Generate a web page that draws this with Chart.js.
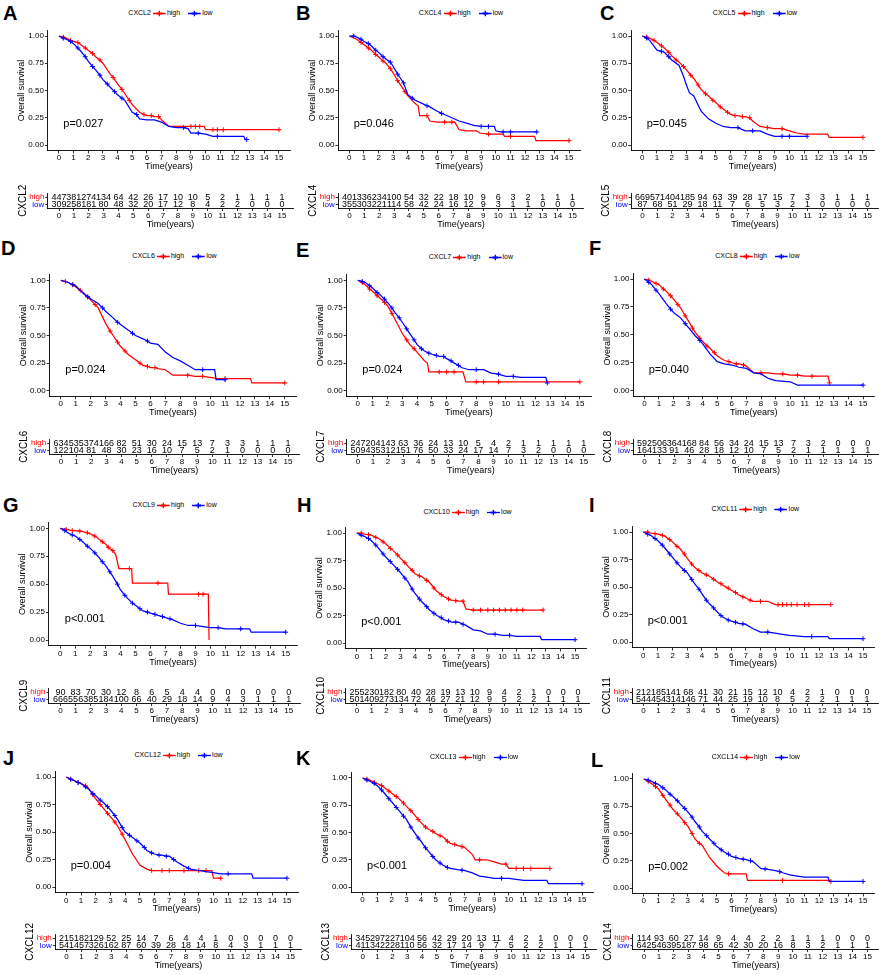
<!DOCTYPE html>
<html><head><meta charset="utf-8">
<script src="https://cdn.jsdelivr.net/npm/chart.js@4.4.1/dist/chart.umd.min.js"></script>
<style>
html,body{margin:0;padding:0;background:#fff;width:879px;height:975px;overflow:hidden;position:relative;font-family:"Liberation Sans",Arial,sans-serif;}
canvas{position:absolute;}
.letter{position:absolute;font-weight:bold;font-size:20px;line-height:20px;color:#000;}
.lg{position:absolute;display:flex;align-items:center;font-size:7px;line-height:8px;white-space:nowrap;transform:translate(-50%,-50%);color:#000;}
.lg svg{display:block;}
</style></head><body>
<script>
// ---------------- DATA ----------------
const years = [0,1,2,3,4,5,6,7,8,9,10,11,12,13,14,15];
const survTicks = [0,0.25,0.5,0.75,1];
const letters = ['A','B','C','D','E','F','G','H','I','J','K','L'];
const genes = ['CXCL2','CXCL4','CXCL5','CXCL6','CXCL7','CXCL8','CXCL9','CXCL10','CXCL11','CXCL12','CXCL13','CXCL14'];
const pvals = ['p=0.027','p=0.046','p=0.045','p=0.024','p=0.024','p=0.040','p<0.001','p<0.001','p<0.001','p=0.004','p<0.001','p=0.002'];
const strata = ['high','low'];

// survival curves: [time, survival] ; third element 1 = censored mark
const cxcl2High = [[0,1],[0.3,0.99,1],[0.5,0.98],[0.8,0.96,1],[1,0.95],[1.3,0.94,1],[1.5,0.92],[1.8,0.89,1],[2,0.87],[2.3,0.84,1],[2.5,0.81],[2.8,0.78,1],[3,0.75],[3.5,0.65],[3.7,0.62,1],[4,0.56],[4.3,0.51,1],[4.5,0.47],[4.8,0.41,1],[5,0.37],[5.5,0.30],[5.8,0.28,1],[6,0.27],[6.3,0.27,1],[6.5,0.26],[6.8,0.26,1],[7,0.23],[7.5,0.17],[8,0.17],[9,0.17,1],[9.3,0.17,1],[9.6,0.17,1],[9.9,0.17],[10,0.14],[10.5,0.14,1],[10.8,0.14,1],[11.2,0.14,1],[15,0.14,1]];
const cxcl2Low = [[0,1],[0.3,0.98,1],[0.5,0.97],[0.8,0.95,1],[1,0.93],[1.3,0.89,1],[1.5,0.86],[1.8,0.81,1],[2,0.77],[2.3,0.72,1],[2.5,0.69],[2.8,0.64,1],[3,0.60],[3.3,0.56,1],[3.5,0.53],[3.8,0.49,1],[4,0.46],[4.3,0.43,1],[4.5,0.41],[5,0.30],[5.3,0.28,1],[5.5,0.24],[6,0.23],[6.5,0.23],[7,0.21],[7.5,0.17],[8,0.16],[8.5,0.16,1],[8.8,0.15],[9,0.11],[9.5,0.11,1],[10,0.10],[10.5,0.08],[10.8,0.08,1],[12.6,0.08],[12.7,0.05],[12.8,0.05,1]];
const cxcl4High = [[0,1],[0.5,0.97],[0.8,0.94,1],[1,0.92],[1.3,0.89,1],[1.5,0.87],[1.8,0.83,1],[2,0.81],[2.3,0.77,1],[2.5,0.75],[2.8,0.70,1],[3,0.66],[3.3,0.59,1],[3.5,0.55],[3.8,0.49,1],[4,0.45],[4.5,0.38],[4.7,0.36],[4.8,0.27],[5.3,0.27,1],[5.5,0.22],[6,0.21],[6.5,0.21,1],[7,0.21,1],[7.2,0.21],[7.5,0.14],[8,0.13],[8.7,0.13],[8.9,0.11],[9.5,0.10,1],[10,0.10],[10.5,0.10],[10.6,0.08],[11,0.08,1],[12.65,0.08],[12.75,0.04],[15,0.04,1]];
const cxcl4Low = [[0,1],[0.3,1,1],[0.5,0.99],[0.8,0.97,1],[1,0.95],[1.3,0.93,1],[1.5,0.91],[1.8,0.87,1],[2,0.85],[2.3,0.81,1],[2.5,0.79],[2.8,0.76,1],[3,0.72],[3.3,0.65,1],[3.5,0.61],[3.7,0.57,1],[4,0.46],[4.3,0.43,1],[4.5,0.41],[5,0.38],[5.3,0.36,1],[5.5,0.35],[6,0.31],[6.3,0.29,1],[6.5,0.28],[7,0.25],[7.5,0.22],[8,0.20],[8.5,0.18],[9,0.17,1],[9.5,0.17,1],[9.9,0.17],[10,0.13],[10.3,0.12],[10.5,0.12,1],[11,0.12,1],[12.8,0.12,1]];
const cxcl5High = [[0,1],[0.3,0.99,1],[0.5,0.98],[0.8,0.96,1],[1,0.94],[1.3,0.91,1],[1.5,0.89],[1.8,0.85,1],[2,0.82],[2.3,0.78,1],[2.5,0.76],[2.8,0.72,1],[3,0.69],[3.3,0.64,1],[3.5,0.61],[3.8,0.55,1],[4,0.51],[4.3,0.47,1],[4.5,0.45],[4.8,0.41,1],[5,0.39],[5.3,0.35,1],[5.5,0.33],[5.8,0.30,1],[6,0.28],[6.3,0.27,1],[6.5,0.27],[6.8,0.26,1],[7,0.26],[7.3,0.25,1],[7.5,0.22],[8,0.17],[8.5,0.16,1],[9,0.15],[9.5,0.15,1],[10,0.13],[10.5,0.11],[11,0.10],[12.6,0.10],[12.7,0.07],[15,0.07,1]];
const cxcl5Low = [[0,1],[0.3,0.98,1],[0.5,0.96],[1,0.87],[1.3,0.86,1],[1.5,0.85],[1.8,0.81,1],[2,0.78],[2.5,0.73],[2.8,0.63],[3,0.55],[3.2,0.48],[3.5,0.45],[4,0.31],[4.5,0.24],[5,0.20],[5.5,0.17],[6,0.16],[6.5,0.16,1],[7,0.13],[7.5,0.13,1],[8,0.13],[8.5,0.10],[9,0.08],[9.5,0.08,1],[10,0.08,1],[11.2,0.08,1]];
const cxcl6High = [[0,1],[0.3,0.99,1],[0.5,0.98],[0.8,0.96,1],[1,0.94],[1.3,0.91,1],[1.5,0.89],[1.8,0.85,1],[2,0.82],[2.3,0.78,1],[2.5,0.75],[3,0.61],[3.3,0.54,1],[3.5,0.50],[3.8,0.44,1],[4,0.40],[4.3,0.36,1],[4.5,0.33],[5,0.28],[5.3,0.25,1],[5.5,0.23],[5.8,0.22,1],[6,0.21],[6.3,0.21,1],[6.5,0.20],[7,0.19],[7.5,0.14],[8,0.14],[8.5,0.14,1],[9,0.13],[9.5,0.13,1],[10,0.12],[10.5,0.11],[11,0.11,1],[12.7,0.11],[12.8,0.07],[15,0.07,1]];
const cxcl6Low = [[0,1],[0.5,0.98],[0.8,0.96,1],[1,0.95],[1.5,0.88],[1.8,0.85,1],[2,0.83],[2.5,0.79],[2.8,0.75,1],[3,0.72],[3.5,0.66],[3.8,0.62,1],[4,0.60],[4.5,0.55],[4.8,0.52,1],[5,0.50],[5.5,0.47],[5.8,0.45,1],[6,0.43],[6.5,0.42],[7,0.35],[7.5,0.30],[8,0.27],[8.5,0.23],[9,0.19],[9.5,0.19,1],[10.3,0.19],[10.4,0.10],[11,0.10,1]];
const cxcl7High = [[0,1],[0.3,0.98,1],[0.5,0.96],[0.8,0.92,1],[1,0.90],[1.3,0.86,1],[1.5,0.84],[1.8,0.80,1],[2,0.77],[2.3,0.70,1],[2.5,0.65],[3,0.52],[3.3,0.46,1],[3.5,0.42],[3.8,0.38,1],[4,0.35],[4.5,0.27],[4.7,0.25],[4.8,0.17],[5.5,0.17,1],[6,0.17,1],[6.5,0.17,1],[7.1,0.17],[7.3,0.08],[8,0.08,1],[8.5,0.08,1],[9.5,0.08,1],[15,0.08,1]];
const cxcl7Low = [[0,1],[0.3,0.99,1],[0.5,0.98],[0.8,0.95,1],[1,0.93],[1.3,0.89,1],[1.5,0.87],[1.8,0.83,1],[2,0.80],[2.3,0.75,1],[2.5,0.71],[2.8,0.66,1],[3,0.62],[3.3,0.56,1],[3.5,0.52],[3.8,0.46,1],[4,0.42],[4.3,0.38,1],[4.5,0.36],[4.8,0.34,1],[5,0.33],[5.3,0.32,1],[5.5,0.31],[5.8,0.31,1],[6,0.29],[6.3,0.27,1],[6.5,0.25],[6.8,0.23,1],[7,0.21],[7.5,0.19],[8,0.19,1],[8.5,0.19],[9,0.16],[9.5,0.15,1],[10,0.13],[10.5,0.13,1],[11,0.12],[12.7,0.12],[12.8,0.07,1]];
const cxcl8High = [[0,1],[0.3,0.99,1],[0.5,0.98],[0.8,0.96,1],[1,0.95],[1.3,0.91,1],[1.5,0.89],[1.8,0.85,1],[2,0.82],[2.3,0.77,1],[2.5,0.74],[2.8,0.67,1],[3,0.63],[3.3,0.56,1],[3.5,0.52],[3.8,0.47,1],[4,0.44],[4.3,0.40,1],[4.5,0.38],[4.8,0.34,1],[5,0.31],[5.5,0.27],[5.8,0.26,1],[6,0.25],[6.3,0.24,1],[6.5,0.24],[6.8,0.23,1],[7,0.22],[7.5,0.16],[8,0.16,1],[8.5,0.16],[9,0.15],[9.5,0.15,1],[10,0.14],[10.5,0.14,1],[11,0.13],[11.5,0.13,1],[12.6,0.13],[12.7,0.07,1]];
const cxcl8Low = [[0,1],[0.3,0.97,1],[0.5,0.95],[0.8,0.90,1],[1,0.87],[1.5,0.78],[1.8,0.73,1],[2,0.70],[2.5,0.65],[2.8,0.60,1],[3,0.57],[3.5,0.49],[3.8,0.45,1],[4,0.42],[4.5,0.33],[5,0.26],[5.5,0.24],[6,0.23],[6.5,0.21],[7,0.20],[7.5,0.16],[8,0.15],[8.5,0.11],[9,0.09],[10,0.08],[10.5,0.05],[15,0.05,1]];
const cxcl9High = [[0,1],[0.4,0.99,1],[0.8,0.98,1],[1,0.98],[1.3,0.975,1],[1.5,0.97],[1.8,0.96,1],[2,0.95],[2.3,0.93,1],[2.5,0.91],[2.8,0.88,1],[3,0.86],[3.2,0.83,1],[3.3,0.82],[3.5,0.80,1],[3.7,0.76],[3.9,0.64],[4.6,0.64,1],[4.75,0.64],[4.8,0.51],[6.5,0.51,1],[7.15,0.51],[7.2,0.41],[9.2,0.41,1],[9.5,0.41,1],[9.85,0.41],[9.9,0]];
const cxcl9Low = [[0,1],[0.3,0.98,1],[0.5,0.96],[0.8,0.94,1],[1,0.93],[1.3,0.90,1],[1.5,0.88],[1.8,0.84,1],[2,0.82],[2.3,0.78,1],[2.5,0.75],[2.8,0.70,1],[3,0.67],[3.3,0.61,1],[3.5,0.57],[3.8,0.50,1],[4,0.45],[4.3,0.40,1],[4.5,0.37],[4.8,0.33,1],[5,0.31],[5.3,0.28,1],[5.5,0.26],[5.8,0.25,1],[6,0.24],[6.3,0.23,1],[6.5,0.22],[6.8,0.21,1],[7,0.20],[7.3,0.19,1],[7.5,0.18],[8,0.15],[8.5,0.13],[9,0.13,1],[9.5,0.12],[10,0.11],[10.5,0.11,1],[11,0.10],[12,0.10,1],[12.6,0.10],[12.7,0.07],[15,0.07,1]];
const cxcl10High = [[0,1],[0.3,1,1],[0.5,0.99],[0.8,0.985,1],[1,0.98],[1.3,0.96,1],[1.5,0.95],[1.8,0.92,1],[2,0.90],[2.3,0.86,1],[2.5,0.84],[2.8,0.80,1],[3,0.77],[3.3,0.73,1],[3.5,0.70],[3.8,0.66,1],[4,0.63],[4.3,0.61,1],[4.5,0.60],[4.8,0.57,1],[5,0.55],[5.3,0.50,1],[5.5,0.47],[5.8,0.44,1],[6,0.42],[6.3,0.40,1],[6.5,0.39],[6.8,0.385,1],[7,0.38],[7.3,0.38,1],[7.5,0.31],[8,0.30,1],[8.5,0.30,1],[9,0.30,1],[9.4,0.30,1],[9.8,0.30,1],[10.2,0.30,1],[10.6,0.30,1],[11,0.30,1],[11.4,0.30,1],[12.8,0.30,1]];
const cxcl10Low = [[0,1],[0.3,0.98,1],[0.5,0.97],[0.8,0.95,1],[1,0.93],[1.3,0.89,1],[1.5,0.86],[1.8,0.81,1],[2,0.78],[2.3,0.74,1],[2.5,0.71],[2.8,0.67,1],[3,0.64],[3.3,0.59,1],[3.5,0.56],[3.8,0.49,1],[4,0.45],[4.3,0.40,1],[4.5,0.37],[4.8,0.33,1],[5,0.30],[5.3,0.27,1],[5.5,0.25],[5.8,0.23,1],[6,0.21],[6.3,0.20,1],[6.5,0.19],[6.8,0.19,1],[7,0.19],[7.3,0.17,1],[7.5,0.16],[8,0.12],[8.5,0.11],[9,0.08],[9.5,0.08,1],[10,0.07],[10.5,0.07,1],[11,0.06],[12.6,0.06],[12.7,0.03],[15,0.03,1]];
const cxcl11High = [[0,1],[0.3,1,1],[0.5,0.99],[0.8,0.985,1],[1,0.98],[1.3,0.97,1],[1.5,0.96],[1.8,0.93,1],[2,0.91],[2.3,0.87,1],[2.5,0.85],[2.8,0.80,1],[3,0.76],[3.3,0.71,1],[3.5,0.68],[3.8,0.65,1],[4,0.63],[4.3,0.61,1],[4.5,0.60],[4.8,0.57,1],[5,0.55],[5.3,0.53,1],[5.5,0.51],[5.8,0.49,1],[6,0.47],[6.3,0.45,1],[6.5,0.43],[6.8,0.41,1],[7,0.40],[7.3,0.38,1],[7.5,0.37],[8,0.37,1],[8.5,0.37],[9,0.34],[9.2,0.34,1],[9.5,0.34,1],[9.8,0.34,1],[10.1,0.34,1],[10.5,0.34,1],[11,0.34,1],[11.3,0.34,1],[12.8,0.34,1]];
const cxcl11Low = [[0,1],[0.3,0.98,1],[0.5,0.97],[0.8,0.94,1],[1,0.92],[1.3,0.88,1],[1.5,0.85],[1.8,0.80,1],[2,0.77],[2.3,0.72,1],[2.5,0.69],[2.8,0.65,1],[3,0.63],[3.3,0.57,1],[3.5,0.53],[3.8,0.48,1],[4,0.44],[4.3,0.38,1],[4.5,0.35],[4.8,0.31,1],[5,0.28],[5.3,0.24,1],[5.5,0.22],[5.8,0.20,1],[6,0.19],[6.3,0.18,1],[6.5,0.17],[6.8,0.165,1],[7,0.16],[7.5,0.12],[8,0.09],[8.5,0.09,1],[9,0.08],[9.5,0.07],[10,0.06],[11,0.05],[11.5,0.05,1],[12.6,0.05],[12.7,0.03],[15,0.03,1]];
const cxcl12High = [[0,1],[0.3,0.98,1],[0.5,0.97],[0.8,0.95,1],[1,0.94],[1.3,0.92,1],[1.5,0.90],[1.8,0.84,1],[2,0.80],[2.3,0.75,1],[2.5,0.72],[2.8,0.67,1],[3,0.64],[3.3,0.59,1],[3.5,0.55],[3.8,0.48,1],[4,0.43],[4.5,0.30],[5,0.20],[5.5,0.16],[5.8,0.15,1],[6,0.15],[6.5,0.15,1],[7,0.15,1],[8,0.15,1],[9,0.15,1],[9.5,0.15,1],[9.9,0.15],[10,0.08],[10.5,0.08,1]];
const cxcl12Low = [[0,1],[0.3,0.98,1],[0.5,0.97],[0.8,0.95,1],[1,0.94],[1.3,0.91,1],[1.5,0.89],[1.8,0.85,1],[2,0.83],[2.3,0.79,1],[2.5,0.77],[2.8,0.73,1],[3,0.70],[3.3,0.65,1],[3.5,0.61],[3.8,0.54,1],[4,0.50],[4.3,0.47,1],[4.5,0.45],[4.8,0.42,1],[5,0.40],[5.3,0.36,1],[5.5,0.33],[5.8,0.31,1],[6,0.30],[6.3,0.29,1],[6.5,0.29],[6.8,0.28,1],[7,0.28],[7.3,0.25,1],[7.5,0.23],[8,0.19],[8.3,0.17,1],[8.5,0.16],[9,0.15],[9.5,0.14],[10,0.13],[10.5,0.12],[11,0.12,1],[12.6,0.12],[12.7,0.08],[15,0.08,1]];
const cxcl13High = [[0,1],[0.3,0.99,1],[0.5,0.98],[0.8,0.96,1],[1,0.95],[1.3,0.93,1],[1.5,0.91],[1.8,0.88,1],[2,0.86],[2.3,0.83,1],[2.5,0.81],[2.8,0.77,1],[3,0.74],[3.3,0.70,1],[3.5,0.67],[3.8,0.62,1],[4,0.59],[4.3,0.55,1],[4.5,0.53],[4.8,0.51,1],[5,0.49],[5.3,0.47,1],[5.5,0.46],[5.8,0.42,1],[6,0.40],[6.3,0.39,1],[6.5,0.38],[6.8,0.37,1],[7,0.36],[7.5,0.30],[7.7,0.25],[8,0.25,1],[8.5,0.25],[9,0.23],[9.5,0.21],[9.8,0.21,1],[10,0.17],[10.5,0.17,1],[11,0.17,1],[11.5,0.17,1],[12.8,0.17,1]];
const cxcl13Low = [[0,1],[0.3,0.98,1],[0.5,0.97],[0.8,0.95,1],[1,0.93],[1.3,0.89,1],[1.5,0.86],[1.8,0.81,1],[2,0.78],[2.3,0.73,1],[2.5,0.70],[2.8,0.65,1],[3,0.62],[3.3,0.55,1],[3.5,0.51],[3.8,0.45,1],[4,0.42],[4.3,0.36,1],[4.5,0.33],[4.8,0.28,1],[5,0.25],[5.3,0.22,1],[5.5,0.20],[5.8,0.18,1],[6,0.17],[6.5,0.16],[6.8,0.155,1],[7,0.15],[7.5,0.13],[8,0.10],[8.5,0.09],[9,0.08],[9.5,0.08,1],[10,0.08],[10.5,0.07],[11,0.06],[12.6,0.06],[12.7,0.03],[15,0.03,1]];
const cxcl14High = [[0,1],[0.3,0.98,1],[0.5,0.96],[0.8,0.93,1],[1,0.91],[1.3,0.85,1],[1.5,0.81],[1.8,0.76,1],[2,0.72],[2.3,0.68,1],[2.5,0.65],[2.8,0.60,1],[3,0.57],[3.3,0.50,1],[3.5,0.45],[3.8,0.41,1],[4,0.39],[4.5,0.28],[5,0.20],[5.5,0.14],[5.8,0.13,1],[6,0.13],[7,0.13],[7.1,0.07],[9.5,0.07,1],[12.7,0.07],[12.8,0.06,1]];
const cxcl14Low = [[0,1],[0.3,0.99,1],[0.5,0.98],[0.8,0.96,1],[1,0.95],[1.3,0.92,1],[1.5,0.90],[1.8,0.86,1],[2,0.84],[2.3,0.80,1],[2.5,0.77],[2.8,0.73,1],[3,0.70],[3.3,0.65,1],[3.5,0.61],[3.8,0.56,1],[4,0.52],[4.3,0.48,1],[4.5,0.45],[4.8,0.41,1],[5,0.38],[5.3,0.35,1],[5.5,0.33],[5.8,0.31,1],[6,0.29],[6.3,0.28,1],[6.5,0.27],[6.8,0.265,1],[7,0.26],[7.3,0.25,1],[7.5,0.24],[8,0.18],[8.3,0.175,1],[8.5,0.17],[9,0.16],[9.3,0.15,1],[9.5,0.14],[10,0.12],[10.5,0.11],[11,0.10],[12.6,0.10],[12.7,0.06],[15,0.06,1]];

// numbers at risk at years 0..15
const cxcl2RiskHigh = [447,381,274,134,64,42,26,17,10,10,5,2,1,1,1,1];
const cxcl2RiskLow  = [309,258,181,80,48,32,20,17,12,8,4,2,2,0,0,0];
const cxcl4RiskHigh = [401,336,234,100,54,32,22,18,10,9,6,3,2,1,1,1];
const cxcl4RiskLow  = [355,303,221,114,58,42,24,16,12,9,3,1,1,0,0,0];
const cxcl5RiskHigh = [669,571,404,185,94,63,39,28,17,15,7,3,3,1,1,1];
const cxcl5RiskLow  = [87,68,51,29,18,11,7,6,5,3,2,1,0,0,0,0];
const cxcl6RiskHigh = [634,535,374,166,82,51,30,24,15,13,7,3,3,1,1,1];
const cxcl6RiskLow  = [122,104,81,48,30,23,16,10,7,5,2,1,0,0,0,0];
const cxcl7RiskHigh = [247,204,143,63,36,24,13,10,5,4,2,1,1,1,1,1];
const cxcl7RiskLow  = [509,435,312,151,76,50,33,24,17,14,7,3,2,0,0,0];
const cxcl8RiskHigh = [592,506,364,168,84,56,34,24,15,13,7,3,2,0,0,0];
const cxcl8RiskLow  = [164,133,91,46,28,18,12,10,7,5,2,1,1,1,1,1];
const cxcl9RiskHigh = [90,83,70,30,12,8,6,5,4,4,0,0,0,0,0,0];
const cxcl9RiskLow  = [666,556,385,184,100,66,40,29,18,14,9,4,3,1,1,1];
const cxcl10RiskHigh = [255,230,182,80,40,28,19,13,10,9,4,2,1,0,0,0];
const cxcl10RiskLow  = [501,409,273,134,72,46,27,21,12,9,5,2,2,1,1,1];
const cxcl11RiskHigh = [212,185,141,68,41,30,21,15,12,10,4,2,1,0,0,0];
const cxcl11RiskLow  = [544,454,314,146,71,44,25,19,10,8,5,2,2,1,1,1];
const cxcl12RiskHigh = [215,182,129,52,25,14,7,6,4,4,1,0,0,0,0,0];
const cxcl12RiskLow  = [541,457,326,162,87,60,39,28,18,14,8,4,3,1,1,1];
const cxcl13RiskHigh = [345,297,227,104,56,42,29,20,13,11,4,2,1,0,0,0];
const cxcl13RiskLow  = [411,342,228,110,56,32,17,14,9,7,5,2,2,1,1,1];
const cxcl14RiskHigh = [114,93,60,27,14,9,4,4,2,2,1,1,1,0,0,0];
const cxcl14RiskLow  = [642,546,395,187,98,65,42,30,20,16,8,3,2,1,1,1];

const curvesHigh = [cxcl2High,cxcl4High,cxcl5High,cxcl6High,cxcl7High,cxcl8High,cxcl9High,cxcl10High,cxcl11High,cxcl12High,cxcl13High,cxcl14High];
const curvesLow  = [cxcl2Low,cxcl4Low,cxcl5Low,cxcl6Low,cxcl7Low,cxcl8Low,cxcl9Low,cxcl10Low,cxcl11Low,cxcl12Low,cxcl13Low,cxcl14Low];
const risksHigh = [cxcl2RiskHigh,cxcl4RiskHigh,cxcl5RiskHigh,cxcl6RiskHigh,cxcl7RiskHigh,cxcl8RiskHigh,cxcl9RiskHigh,cxcl10RiskHigh,cxcl11RiskHigh,cxcl12RiskHigh,cxcl13RiskHigh,cxcl14RiskHigh];
const risksLow  = [cxcl2RiskLow,cxcl4RiskLow,cxcl5RiskLow,cxcl6RiskLow,cxcl7RiskLow,cxcl8RiskLow,cxcl9RiskLow,cxcl10RiskLow,cxcl11RiskLow,cxcl12RiskLow,cxcl13RiskLow,cxcl14RiskLow];

// ---------------- LAYOUT (page pixels) ----------------
const panelGeo = [
  {x0:59,   x15:282,   y1:36,    y0:145,   legY:13,  lx:3,   ly:12.5, riskY:197},
  {x0:349.5,x15:572.5, y1:36,    y0:145,   legY:13,  lx:296, ly:12.5, riskY:197},
  {x0:642.5,x15:867.5, y1:36,    y0:145,   legY:13,  lx:600, ly:12.5, riskY:197},
  {x0:61,   x15:288,   y1:280.3, y0:390.7, legY:256, lx:1,   ly:248,  riskY:443},
  {x0:358,  x15:583.7, y1:280.3, y0:390.7, legY:257, lx:296, ly:250,  riskY:443},
  {x0:644.7,x15:870,   y1:279,   y0:390.7, legY:256, lx:589, ly:248,  riskY:443},
  {x0:60.4, x15:288.8, y1:528.3, y0:640,   legY:505, lx:3,   ly:505,  riskY:692},
  {x0:357,  x15:578,   y1:533,   y0:643,   legY:512, lx:297, ly:505,  riskY:692},
  {x0:643.5,x15:867,   y1:532,   y0:642,   legY:509, lx:589, ly:505,  riskY:692},
  {x0:66.5, x15:290.5, y1:777,   y0:887,   legY:755, lx:3,   ly:757.5,riskY:938},
  {x0:362.7,x15:585.4, y1:778,   y0:887,   legY:757, lx:296, ly:758,  riskY:938},
  {x0:644,  x15:867.5, y1:779,   y0:888,   legY:757, lx:591, ly:760,  riskY:938}
];
const pvalPos = [0.3, 0.19];
const RED = '#FF0000', BLUE = '#0000FF';
const FONT = '"Liberation Sans", Arial, sans-serif';
Chart.defaults.font.family = FONT;
Chart.defaults.color = '#000';

function addCanvas(left, top, w, h){
  const c = document.createElement('canvas');
  c.width = w; c.height = h;
  c.style.left = left+'px'; c.style.top = top+'px';
  c.style.width = w+'px'; c.style.height = h+'px';
  document.body.appendChild(c);
  return c;
}
function gridOpts(tl){ return {display:true, drawOnChartArea:false, drawTicks:true, tickLength:tl, color:'#000', lineWidth:0.8}; }
function xScaleOpts(xh, titleDist){
  return {
    type:'linear', min:-0.75, max:15.75,
    afterBuildTicks: s => { s.ticks = years.map(v => ({value:v})); },
    ticks:{font:{size:8}, color:'#000', padding:0, maxRotation:0, autoSkip:false, callback: v => String(v)},
    grid: gridOpts(3),
    border:{display:true, color:'#000', width:0.9},
    title:{display:true, text:'Time(years)', font:{size:9}, color:'#000', padding:{top:0, bottom: Math.max(0, xh - titleDist - 5.4)}},
    afterFit: s => { s.height = xh; }
  };
}
function curveDs(data, col, label){
  return {
    label, data, borderColor:col, backgroundColor:col, borderWidth:1.25, stepped:false, tension:0, fill:false,
    pointStyle:'cross', pointBorderColor:col, pointBorderWidth:1,
    pointRadius: ctx => (ctx.raw && ctx.raw[2]) ? 2.4 : 0
  };
}
function pvalPlugin(text){
  return {id:'pval', afterDatasetsDraw(chart){
    const {ctx, scales:{x, y}} = chart;
    ctx.save(); ctx.font = '11px '+FONT; ctx.fillStyle = '#000';
    ctx.textAlign = 'left'; ctx.textBaseline = 'middle';
    ctx.fillText(text, x.getPixelForValue(pvalPos[0]), y.getPixelForValue(pvalPos[1]));
    ctx.restore();
  }};
}
const riskNumbers = {id:'riskNumbers', afterDatasetsDraw(chart){
  const ctx = chart.ctx;
  ctx.save(); ctx.font = '9px '+FONT; ctx.fillStyle = '#000';
  ctx.textAlign = 'center'; ctx.textBaseline = 'middle';
  chart.data.datasets.forEach((ds, di) => {
    chart.getDatasetMeta(di).data.forEach((el, j) => { ctx.fillText(String(ds.data[j].n), el.x, el.y); });
  });
  ctx.restore();
}};
function riskTitle(text, cxOffset){
  return {id:'riskTitle', afterDraw(chart){
    const {ctx, chartArea} = chart;
    ctx.save(); ctx.font = '10px '+FONT; ctx.fillStyle = '#000';
    ctx.textAlign = 'center'; ctx.textBaseline = 'middle';
    ctx.translate(chartArea.left - cxOffset, (chartArea.top + chartArea.bottom)/2);
    ctx.rotate(-Math.PI/2);
    ctx.fillText(text, 0, 0);
    ctx.restore();
  }};
}

function makeKM(i){
  const g = panelGeo[i];
  const ppy = (g.x15-g.x0)/15, ppu = g.y0-g.y1;
  const L = g.x0-0.75*ppy, R = g.x15+0.75*ppy, T = g.y1-0.05*ppu, B = g.y0+0.05*ppu;
  const titleCx = L - 26;
  const left = Math.floor(titleCx - 5.4);
  const top = Math.floor(T) - 6;
  const right = Math.min(879, Math.ceil(R) + 1);
  const bottom = Math.ceil(B + 23);
  const cv = addCanvas(left, top, right-left, bottom-top);
  const yw = L - left, xh = bottom - B;
  new Chart(cv, {
    type:'line',
    data:{datasets:[curveDs(curvesLow[i], BLUE, 'low'), curveDs(curvesHigh[i], RED, 'high')]},
    options:{
      responsive:false, animation:false, events:[],
      layout:{padding:{left:0, top:T-top, right:right-R, bottom:0}},
      plugins:{legend:{display:false}, tooltip:{enabled:false}},
      scales:{
        x: xScaleOpts(xh, 16.5),
        y: {
          type:'linear', min:-0.05, max:1.05,
          afterBuildTicks: s => { s.ticks = survTicks.map(v => ({value:v})); },
          ticks:{font:{size:8}, color:'#000', padding:1, callback: v => Number(v).toFixed(2)},
          grid: gridOpts(3),
          border:{display:true, color:'#000', width:0.9},
          title:{display:true, text:'Overall survival', font:{size:9}, color:'#000', padding:{top:(titleCx-5.4)-left, bottom:0}},
          afterFit: s => { s.width = yw; }
        }
      }
    },
    plugins:[pvalPlugin(pvals[i])]
  });
}

function makeRisk(i){
  const g = panelGeo[i];
  const ppy = (g.x15-g.x0)/15;
  const L = g.x0-0.75*ppy, R = g.x15+0.75*ppy;
  const T = g.riskY - 3.5, B = g.riskY + 11;
  const left = Math.floor(L - 32);
  const top = Math.floor(T) - 16;
  const right = Math.min(879, Math.ceil(R) + 1);
  const bottom = Math.ceil(B + 24);
  const cv = addCanvas(left, top, right-left, bottom-top);
  const yw = L - left, xh = bottom - B;
  const mk = (arr, s) => years.map((t, j) => ({x:t, y:s, n:arr[j]}));
  new Chart(cv, {
    type:'scatter',
    data:{datasets:[
      {label:'high', data: mk(risksHigh[i], 'high'), pointRadius:0},
      {label:'low', data: mk(risksLow[i], 'low'), pointRadius:0}
    ]},
    options:{
      responsive:false, animation:false, events:[],
      layout:{padding:{left:0, top:T-top, right:right-R, bottom:0}},
      plugins:{legend:{display:false}, tooltip:{enabled:false}},
      scales:{
        x: xScaleOpts(xh, 16.5),
        y: {
          type:'category', labels: strata, offset:true,
          ticks:{font:{size:8}, padding:1, autoSkip:false, color: c => c.index === 0 ? RED : BLUE},
          grid: gridOpts(2.5),
          border:{display:true, color:'#000', width:0.9},
          title:{display:false},
          afterFit: s => { s.width = yw; }
        }
      }
    },
    plugins:[riskNumbers, riskTitle(genes[i], 25)]
  });
}

function marker(col){
  return `<svg width="13" height="7" viewBox="0 0 13 7"><line x1="0" y1="3.5" x2="13" y2="3.5" stroke="${col}" stroke-width="1.3"/><line x1="6.5" y1="0.8" x2="6.5" y2="6.2" stroke="${col}" stroke-width="1.3"/><line x1="3.8" y1="3.5" x2="9.2" y2="3.5" stroke="${col}" stroke-width="1.8"/></svg>`;
}
function addLegend(i){
  const g = panelGeo[i];
  const d = document.createElement('div');
  d.className = 'lg';
  d.style.left = ((g.x0+g.x15)/2)+'px';
  d.style.top = g.legY+'px';
  d.innerHTML = `<span style="margin-right:2px">${genes[i]}</span>${marker(RED)}<span style="margin:0 8px 0 1px">${strata[0]}</span>${marker(BLUE)}<span style="margin-left:1px">${strata[1]}</span>`;
  document.body.appendChild(d);
}
function addLetter(i){
  const g = panelGeo[i];
  const d = document.createElement('div');
  d.className = 'letter';
  d.textContent = letters[i];
  d.style.left = g.lx+'px';
  d.style.top = (g.ly-9.8)+'px';
  document.body.appendChild(d);
}

for (let i = 0; i < genes.length; i++){
  addLetter(i); addLegend(i); makeKM(i); makeRisk(i);
}
</script>
</body></html>
